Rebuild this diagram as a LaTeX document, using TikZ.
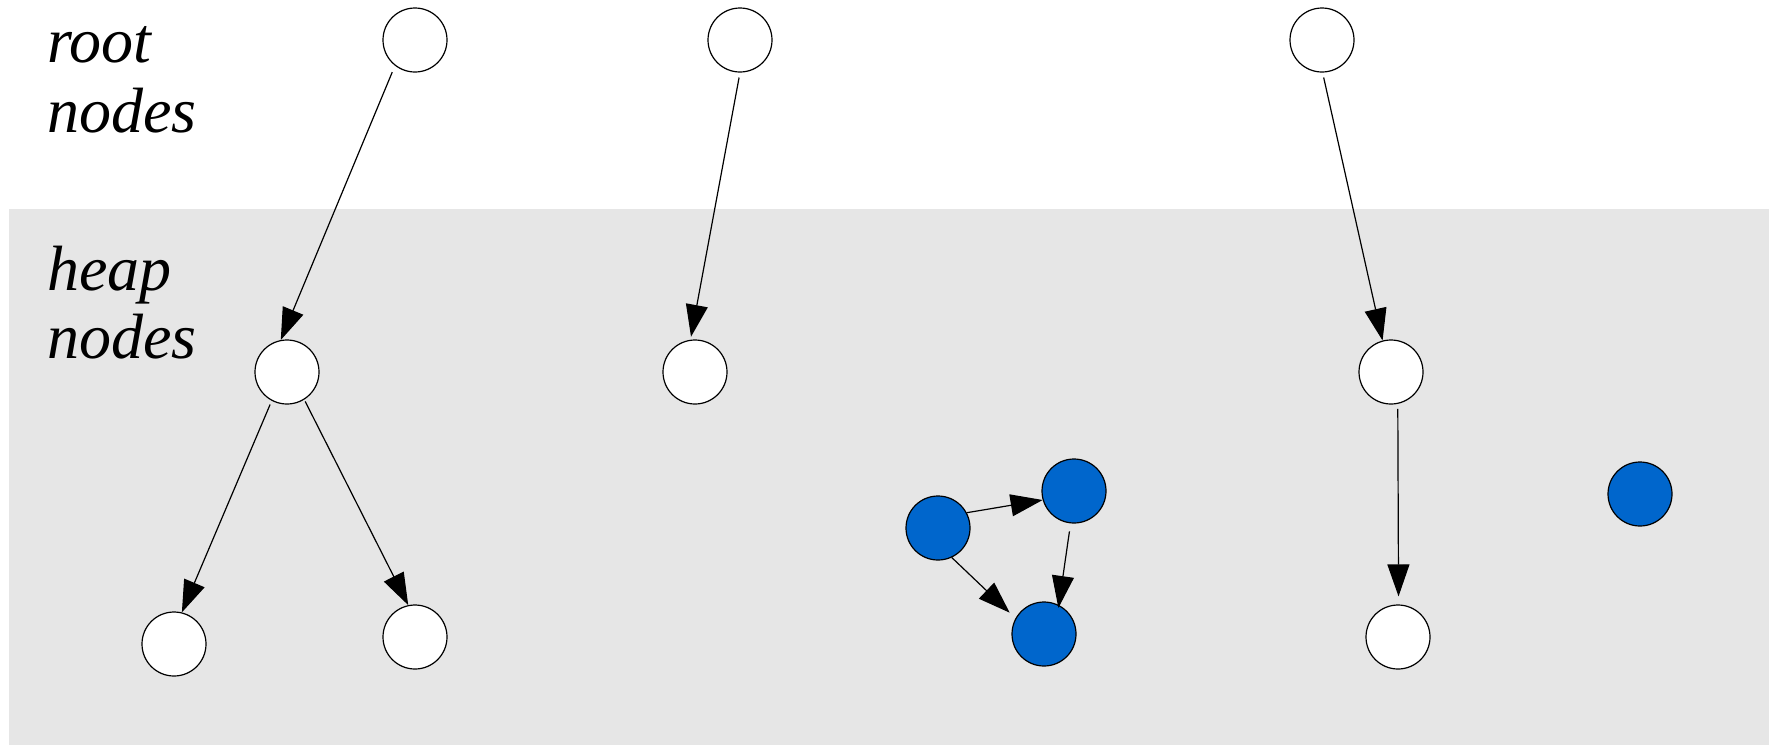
\documentclass[tikz,border=0pt]{standalone}
\usepackage{fontspec}
\setmainfont{Liberation Serif}
\usetikzlibrary{arrows.meta}
\definecolor{heapbg}{RGB}{230,230,230}
\definecolor{garbage}{RGB}{0,102,204}
\tikzset{
  obj/.style={circle, draw=black, line width=1.2pt, minimum size=64pt, inner sep=0pt},
  live/.style={obj, fill=white},
  dead/.style={obj, fill=garbage},
  ref/.style={line width=1.2pt, draw=black,
    -{Triangle[length=32pt, width=22pt]}},
  caption/.style={font=\fontsize{64}{72}\selectfont\itshape, inner sep=0pt, anchor=base west}
}
\begin{document}
\begin{tikzpicture}[x=1pt, y=-1pt]
\useasboundingbox (0,0) rectangle (1769,745);
% heap region
\fill[heapbg] (9,209) rectangle (1769,745);

% captions
\node[caption] (rootw) at (47,62) {root};
\node[caption] (rootn) at (47,132) {nodes};
\node[caption] (heapw) at (47,290) {heap};
\node[caption] (heapn) at (47,358) {nodes};

% root set
\node[live] (r1) at (415,40) {};
\node[live] (r2) at (740,40) {};
\node[live] (r3) at (1322,40) {};

% reachable heap objects
\node[live] (a)  at (287,372) {};
\node[live] (b)  at (695,372) {};
\node[live] (c)  at (1391,372) {};
\node[live] (a1) at (174,644) {};
\node[live] (a2) at (415,637) {};
\node[live] (c1) at (1398,637) {};

% unreachable heap objects
\node[dead] (g1) at (938,528) {};
\node[dead] (g2) at (1074,491) {};
\node[dead] (g3) at (1044,634) {};
\node[dead] (g4) at (1640,494) {};

% references
\draw[ref, shorten <=7pt] (r1.-128) -- (a.101);
\draw[ref, shorten <=5pt, shorten >=3pt] (r2.-90) -- (b.98);
\draw[ref, shorten <=5pt] (r3.-89) -- (c.105);
\draw[ref, shorten <=4pt] (a.-118) -- (a1.76);
\draw[ref, shorten <=2pt] (a.-58) -- (a2.102);
\draw[ref, shorten <=5pt, shorten >=8pt] (c.-78) -- (c1.89);
\draw[ref] (g1.28) -- (g2.-164);
\draw[ref, shorten >=8pt] (g1.-65) -- (g3.151);
\draw[ref, shorten <=8pt, shorten >=-3pt] (g2.-96) -- (g3.63);
\end{tikzpicture}
\end{document}
